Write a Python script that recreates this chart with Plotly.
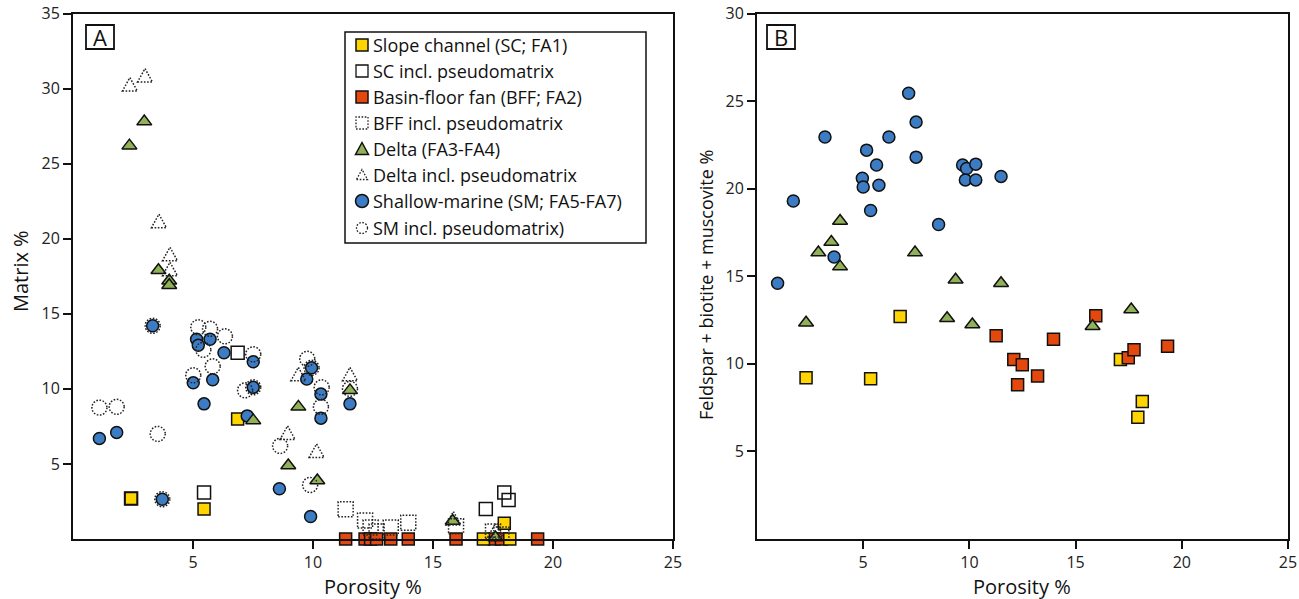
import plotly.graph_objects as go

W, H = 1299, 599

# ---------------- Panel A: Porosity % vs Matrix % ----------------
sc_x = [2.42, 5.46, 6.86, 17.10, 17.97, 18.20]
sc_matrix = [2.7, 2.0, 8.0, 0.0, 1.05, 0.0]
scp_x = [2.42, 5.46, 6.86, 17.20, 17.97, 18.15]
scp_matrix = [2.7, 3.1, 12.4, 2.0, 3.1, 2.6]

bff_x = [11.36, 12.17, 12.40, 12.65, 13.24, 13.97, 15.96, 17.55, 17.85, 19.36]
bff_matrix = [0, 0, 0, 0, 0, 0, 0, 0, 0, 0]
bffp_x = [11.36, 12.17, 12.40, 12.65, 13.24, 13.97, 15.96, 17.50, 17.85]
bffp_matrix = [1.98, 1.24, 0.76, 0.50, 0.76, 1.09, 0.85, 0.50, 0.30]

delta_x = [2.35, 2.97, 3.56, 4.01, 4.01, 7.51, 8.97, 9.39, 10.18, 11.54, 15.82, 17.60]
delta_matrix = [26.2, 27.8, 17.9, 17.2, 16.9, 7.9, 4.9, 8.8, 3.9, 9.9, 1.2, 0.1]
deltap_x = [2.37, 3.00, 3.58, 4.04, 4.04, 8.94, 9.39, 10.15, 11.54, 15.85, 17.60]
deltap_matrix = [30.2, 30.8, 21.1, 18.9, 17.9, 7.0, 10.9, 5.8, 10.9, 1.3, 0.5]

sm_x = [1.10, 1.82, 3.32, 3.72, 5.01, 5.15, 5.22, 5.46, 5.71, 5.82, 6.29,
        7.26, 7.51, 7.51, 8.60, 9.74, 9.90, 9.94, 10.33, 10.33, 11.54]
sm_matrix = [6.7, 7.1, 14.2, 2.65, 10.4, 13.3, 12.9, 9.0, 13.3, 10.6, 12.4,
             8.2, 11.8, 10.1, 3.35, 10.65, 1.5, 11.4, 9.65, 8.05, 9.0]
smp_x = [1.10, 1.82, 3.32, 3.53, 3.72, 5.01, 5.22, 5.71, 6.33, 5.43, 5.82,
         7.51, 7.17, 7.51, 8.63, 9.76, 9.94, 10.36, 10.33, 9.88, 11.54]
smp_matrix = [8.75, 8.8, 14.2, 7.0, 2.65, 10.9, 14.1, 14.0, 13.5, 12.6, 11.5,
              12.3, 9.9, 10.1, 6.2, 12.0, 11.4, 10.1, 8.8, 3.6, 10.0]

# ---------------- Panel B: Porosity % vs Feldspar + biotite + muscovite % ----------------
b_sc_x = [2.31, 5.35, 6.74, 17.11, 18.14, 17.93]
b_sc_y = [9.2, 9.15, 12.7, 10.25, 7.85, 6.95]
b_bff_x = [11.26, 12.09, 12.49, 12.27, 13.21, 13.96, 15.95, 17.48, 17.75, 19.33]
b_bff_y = [11.6, 10.25, 9.95, 8.8, 9.3, 11.4, 12.75, 10.35, 10.8, 11.0]
b_delta_x = [2.31, 2.89, 3.50, 3.91, 3.91, 7.44, 8.95, 9.35, 10.14, 11.49, 15.80, 17.62]
b_delta_y = [12.35, 16.35, 16.95, 18.15, 15.55, 16.35, 12.6, 14.8, 12.25, 14.6, 12.15, 13.1]
b_sm_x = [0.97, 1.71, 3.20, 3.63, 4.96, 5.00, 5.16, 5.35, 5.63, 5.74, 6.21,
          7.14, 7.49, 7.49, 8.55, 9.68, 9.87, 9.81, 10.30, 10.30, 11.49]
b_sm_y = [14.6, 19.3, 22.95, 16.1, 20.6, 20.1, 22.2, 18.75, 21.35, 20.2, 22.95,
          25.45, 23.8, 21.8, 17.95, 21.35, 21.15, 20.5, 21.4, 20.5, 20.7]

legend_labels = ["Slope channel (SC; FA1)", "SC incl. pseudomatrix",
                 "Basin-floor fan (BFF; FA2)", "BFF incl. pseudomatrix",
                 "Delta (FA3-FA4)", "Delta incl. pseudomatrix",
                 "Shallow-marine (SM; FA5-FA7)", "SM incl. pseudomatrix)"]

YELLOW = "#FFD400"
RED = "#E5480C"
GREEN = "#90B157"
BLUE = "#3C7CC4"
EDGE = "#111111"
DOT = "#222222"
FONT = "Open Sans"

fig = go.Figure()


def solid(x, y, symbol, color, name, xa="x", ya="y", size=12):
    fig.add_trace(go.Scatter(
        x=x, y=y, mode="markers", name=name, xaxis=xa, yaxis=ya,
        cliponaxis=False, showlegend=False,
        marker=dict(symbol=symbol, size=size, color=color,
                    line=dict(color=EDGE, width=1.5))))


# Panel A solid markers
solid(bff_x, bff_matrix, "square", RED, legend_labels[2])
solid(sc_x, sc_matrix, "square", YELLOW, legend_labels[0])
solid(scp_x, scp_matrix, "square-open", EDGE, legend_labels[1], size=13)
solid(sm_x, sm_matrix, "circle", BLUE, legend_labels[6])
solid(delta_x, delta_matrix, "triangle-up", GREEN, legend_labels[4], size=13)

# Panel B solid markers
solid(b_sc_x, b_sc_y, "square", YELLOW, legend_labels[0], "x2", "y2")
solid(b_bff_x, b_bff_y, "square", RED, legend_labels[2], "x2", "y2")
solid(b_delta_x, b_delta_y, "triangle-up", GREEN, legend_labels[4], "x2", "y2", size=13)
solid(b_sm_x, b_sm_y, "circle", BLUE, legend_labels[6], "x2", "y2")

shapes = []
DASH = "1.6px,1.6px"
TRI = "M -7.5 -5.5 L 7.5 -5.5 L 0 8 Z"


def dotted(kind, x, y, xref="x", yref="y", r=7.5, path=TRI):
    base = dict(xref=xref, yref=yref, xsizemode="pixel", ysizemode="pixel",
                xanchor=x, yanchor=y, layer="above",
                line=dict(color=DOT, width=1.5, dash=DASH),
                fillcolor="rgba(0,0,0,0)")
    if kind == "path":
        base.update(type="path", path=path)
    else:
        base.update(type=kind, x0=-r, x1=r, y0=-r, y1=r)
    shapes.append(base)


# Invisible traces carrying pseudomatrix data (for hover), drawn by dotted shapes
for xs, ys, nm in [(bffp_x, bffp_matrix, legend_labels[3]),
                   (deltap_x, deltap_matrix, legend_labels[5]),
                   (smp_x, smp_matrix, legend_labels[7])]:
    fig.add_trace(go.Scatter(x=xs, y=ys, mode="markers", name=nm, showlegend=False,
                             marker=dict(size=14, color="rgba(0,0,0,0)")))

for xv, yv in zip(smp_x, smp_matrix):
    dotted("circle", xv, yv)
for xv, yv in zip(bffp_x, bffp_matrix):
    dotted("rect", xv, yv)
for xv, yv in zip(deltap_x, deltap_matrix):
    dotted("path", xv, yv)


def fx(px):
    return px / W


def fy(py):
    return (H - py) / H


# ---- manual legend in panel A ----
shapes.append(dict(type="rect", xref="paper", yref="paper",
                   x0=fx(345), x1=fx(646), y0=fy(243), y1=fy(32),
                   line=dict(color=EDGE, width=1.5), fillcolor="white", layer="above"))
ly = [45, 71, 97, 123, 149, 175, 201, 228]
lx = 362
annotations = []


def pshape(kind, px, py, r, fill, line, path=None):
    d = dict(xref="paper", yref="paper", xsizemode="pixel", ysizemode="pixel",
             xanchor=fx(px), yanchor=fy(py), layer="above", line=line, fillcolor=fill)
    if kind == "path":
        d.update(type="path", path=path)
    else:
        d.update(type=kind, x0=-r, x1=r, y0=-r, y1=r)
    shapes.append(d)


solidline = dict(color=EDGE, width=1.5)
dotline = dict(color=DOT, width=1.3, dash=DASH)
pshape("rect", lx, ly[0], 6, YELLOW, solidline)
pshape("rect", lx, ly[1], 6, "white", dict(color=EDGE, width=1.3))
pshape("rect", lx, ly[2], 6, RED, solidline)
pshape("rect", lx, ly[3], 6, "rgba(0,0,0,0)", dotline)
pshape("path", lx, ly[4], 0, GREEN, solidline, "M -6.5 -5.5 L 6.5 -5.5 L 0 6.5 Z")
pshape("path", lx, ly[5], 0, "rgba(0,0,0,0)", dotline, "M -5.5 -4.5 L 5.5 -4.5 L 0 5.5 Z")
pshape("circle", lx, ly[6], 6.5, BLUE, solidline)
pshape("circle", lx, ly[7], 5.5, "rgba(0,0,0,0)", dotline)

for lab, yy in zip(legend_labels, ly):
    annotations.append(dict(xref="paper", yref="paper", x=fx(371), y=fy(yy),
                            xanchor="left", yanchor="middle", showarrow=False,
                            text=lab, font=dict(family=FONT, size=18, color="#111")))

# panel letters
for letter, x0, x1 in [("A", 86, 114), ("B", 767, 795)]:
    shapes.append(dict(type="rect", xref="paper", yref="paper",
                       x0=fx(x0), x1=fx(x1), y0=fy(49), y1=fy(25),
                       line=dict(color=EDGE, width=1.8), fillcolor="white", layer="above"))
    annotations.append(dict(xref="paper", yref="paper", x=fx((x0 + x1) / 2), y=fy(37.5),
                            xanchor="center", yanchor="middle", showarrow=False,
                            text=letter, font=dict(family=FONT, size=22, color="#111")))

# axis titles
title_font = dict(family=FONT, size=20, color="#111")
annotations += [
    dict(xref="paper", yref="paper", x=fx(373), y=fy(586), text="Porosity %",
         showarrow=False, xanchor="center", yanchor="middle", font=title_font),
    dict(xref="paper", yref="paper", x=fx(1022), y=fy(586), text="Porosity %",
         showarrow=False, xanchor="center", yanchor="middle", font=title_font),
    dict(xref="paper", yref="paper", x=fx(20), y=fy(271), text="Matrix %", textangle=-90,
         showarrow=False, xanchor="center", yanchor="middle", font=title_font),
    dict(xref="paper", yref="paper", x=fx(706), y=fy(285),
         text="Feldspar + biotite + muscovite %", textangle=-90,
         showarrow=False, xanchor="center", yanchor="middle",
         font=dict(family=FONT, size=18, color="#111")),
]

tick_font = dict(family=FONT, size=16, color="#222")
ax_common = dict(showgrid=False, zeroline=False, showline=True, linecolor=EDGE,
                 linewidth=1.8, mirror=True, ticks="outside", ticklen=8, tickwidth=1.6,
                 tickcolor=EDGE, tickfont=tick_font, automargin=False, fixedrange=True)

ydom = [fy(539), fy(13.5)]
fig.update_layout(
    width=W, height=H, margin=dict(l=0, r=0, t=0, b=0),
    paper_bgcolor="white", plot_bgcolor="white", showlegend=False,
    xaxis=dict(domain=[fx(73), fx(673)], range=[0, 25], tickvals=[5, 10, 15, 20, 25],
               anchor="y", **ax_common),
    yaxis=dict(domain=ydom, range=[0, 35], tickvals=[5, 10, 15, 20, 25, 30, 35],
               anchor="x", **ax_common),
    xaxis2=dict(domain=[fx(757), fx(1288)], range=[0, 25], tickvals=[5, 10, 15, 20, 25],
                anchor="y2", **ax_common),
    yaxis2=dict(domain=ydom, range=[0, 30], tickvals=[5, 10, 15, 20, 25, 30],
                anchor="x2", **ax_common),
    shapes=shapes, annotations=annotations,
    font=dict(family=FONT),
)

fig.write_html("out.html", include_plotlyjs=True, config={"displayModeBar": False},
               post_script="document.body.style.margin='0';")
